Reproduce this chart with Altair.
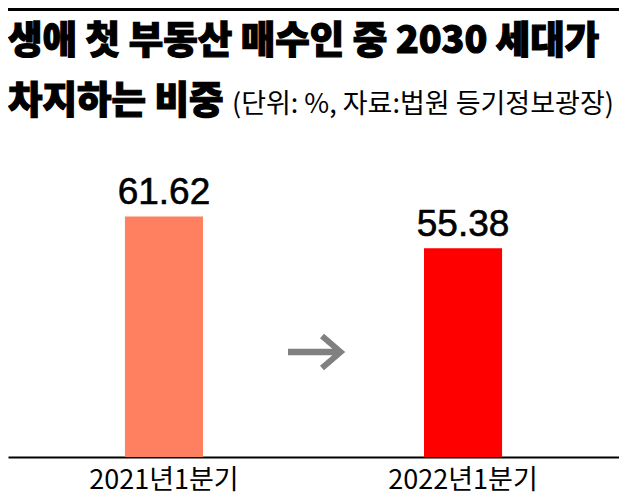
import altair as alt
import pandas as pd

# ---- data ----
categories = ["2021년1분기", "2022년1분기"]
values = [61.62, 55.38]
value_labels = ["61.62", "55.38"]
bar_colors = ["#FF8060", "#FF0000"]
axis_min = 14.6
axis_max = 75
title_line1 = "생애 첫 부동산 매수인 중 2030 세대가"
title_line2 = "차지하는 비중"
subtitle = "(단위: %, 자료:법원 등기정보광장)"

df = pd.DataFrame({"period": categories, "value": values,
                   "label": value_labels, "color": bar_colors})
one = pd.DataFrame({"k": [0]})

W, H = 611, 309
KR = "Noto Sans CJK KR"
NUM = "Liberation Sans, Arial, sans-serif"

x = alt.X("period:N", sort=categories,
          scale=alt.Scale(paddingInner=0.739, paddingOuter=0.391),
          axis=alt.Axis(title=None, ticks=False, domainColor="black", domainWidth=2,
                        labelAngle=0, labelFont=KR, labelFontSize=27, labelColor="black",
                        labelPadding=31, labelBaseline="alphabetic", labelLimit=300))
y = alt.Y("value:Q", scale=alt.Scale(domain=[axis_min, axis_max], zero=False, nice=False),
          axis=None)

bars = alt.Chart(df).mark_bar().encode(
    x=x, y=y, y2=alt.datum(axis_min), color=alt.Color("color:N", scale=None))

vlabels = alt.Chart(df).mark_text(font=NUM, fontSize=37, dy=-12, baseline="alphabetic",
                                  color="black", stroke="black", strokeWidth=0.6).encode(
    x=x, y=y, text="label:N")

border = alt.Chart(one).mark_rule(color="black", strokeWidth=3).encode(
    x=alt.value(0), x2=alt.value(W), y=alt.value(-138.5))

t1 = alt.Chart(one).mark_text(font=KR, fontSize=37.5, fontWeight=900, align="left",
                              baseline="middle", color="black",
                              stroke="black", strokeWidth=1.2).encode(
    x=alt.value(0), y=alt.value(-106), text=alt.value(title_line1))
t2 = alt.Chart(one).mark_text(font=KR, fontSize=37.5, fontWeight=900, align="left",
                              baseline="middle", color="black",
                              stroke="black", strokeWidth=1.2).encode(
    x=alt.value(0), y=alt.value(-46), text=alt.value(title_line2))
sub = alt.Chart(one).mark_text(font=KR, fontSize=27, align="left",
                               baseline="middle", color="black").encode(
    x=alt.value(224), y=alt.value(-43), text=alt.value(subtitle))

arrow_path = ("M-1,-0.115L0.552,-0.115L0.119,-0.479L0.259,-0.64L1,0L0.259,0.64"
              "L0.119,0.479L0.552,0.115L-1,0.115Z")
arrow = alt.Chart(one).mark_point(shape=arrow_path, filled=True, size=3272,
                                  color="#808080", opacity=1, strokeWidth=0).encode(
    x=alt.value(308.6), y=alt.value(204))

chart = alt.layer(border, t1, t2, sub, bars, vlabels, arrow).properties(
    width=W, height=H,
    padding={"left": 0, "top": 140, "right": 0, "bottom": 40},
    autosize=alt.AutoSizeParams(type="none"),
).configure_view(stroke=None)

chart.save("out.html", embed_options={"renderer": "svg", "actions": False})
